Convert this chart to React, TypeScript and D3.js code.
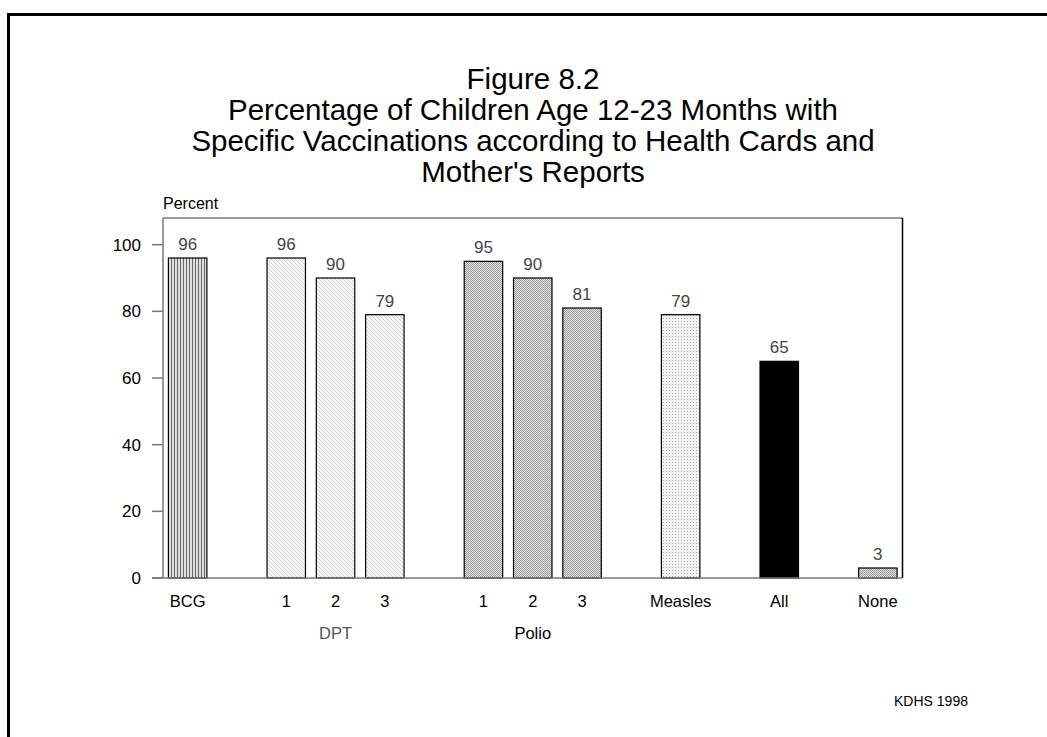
import React from "react";
import * as d3 from "d3";

const titleLines = [
  "Figure 8.2",
  "Percentage of Children Age 12-23 Months with",
  "Specific Vaccinations according to Health Cards and",
  "Mother's Reports",
];
const barLabels = ["BCG", "1", "2", "3", "1", "2", "3", "Measles", "All", "None"];
const barSlots = [0, 2, 3, 4, 6, 7, 8, 10, 12, 14];
const barValues = [96, 96, 90, 79, 95, 90, 81, 79, 65, 3];
const barFills = ["url(#pBCG)", "url(#pDPT)", "url(#pDPT)", "url(#pDPT)", "url(#pPolio)", "url(#pPolio)", "url(#pPolio)", "url(#pMeasles)", "#000", "url(#pPolio)"];
const groupLabels = [
  { text: "DPT", slot: 3, color: "#555" },
  { text: "Polio", slot: 7, color: "#000" },
];
const yTicks = [0, 20, 40, 60, 80, 100];
const slotCount = 15;

export default function App() {
  const W = 1047, H = 737;
  const left = 163, right = 902.5, top = 218, bottom = 578;
  const x = d3.scaleBand<number>().domain(d3.range(slotCount)).range([left, right]).paddingInner(0.22).paddingOuter(0.11);
  const y = d3.scaleLinear().domain([0, 108]).range([bottom, top]);
  const font = "'Liberation Sans', Arial, sans-serif";
  return (
    <svg width={W} height={H} style={{ position: "absolute", left: 0, top: 0 }} fontFamily={font}>
      <defs>
        <pattern id="pBCG" width="3" height="3" patternUnits="userSpaceOnUse">
          <rect width="3" height="3" fill="#e0e0e0" />
          <rect x="0" width="1" height="3" fill="#666" />
        </pattern>
        <pattern id="pDPT" width="4" height="4" patternUnits="userSpaceOnUse">
          <rect width="4" height="4" fill="#f5f5f5" />
          <path d="M0,0 L4,4 M-1,3 L1,5 M3,-1 L5,1" stroke="#c4c4c4" strokeWidth="0.7" />
        </pattern>
        <pattern id="pPolio" width="2" height="2" patternUnits="userSpaceOnUse">
          <rect width="2" height="2" fill="#e4e4e4" />
          <rect width="1" height="1" fill="#9a9a9a" />
          <rect x="1" y="1" width="1" height="1" fill="#9a9a9a" />
        </pattern>
        <pattern id="pMeasles" width="3" height="3" patternUnits="userSpaceOnUse">
          <rect width="3" height="3" fill="#f2f2f2" />
          <rect width="1" height="1" fill="#aaa" />
        </pattern>
      </defs>
      <rect x={8.5} y={14.5} width={W + 10} height={H + 10} fill="none" stroke="#000" strokeWidth={3} />
      {titleLines.map((t, i) => (
        <text key={i} x={533} y={88.5 + i * 31} textAnchor="middle" fontSize={29.5} fill="#000">{t}</text>
      ))}
      <text x={163} y={209} fontSize={16} fill="#000">Percent</text>
      <line x1={left} x2={right} y1={top} y2={top} stroke="#777" strokeWidth={1.5} />
      <line x1={right} x2={right} y1={top} y2={bottom} stroke="#000" strokeWidth={1.5} />
      <line x1={left} x2={left} y1={top} y2={bottom} stroke="#777" strokeWidth={1.5} />
      {yTicks.map((t) => (
        <g key={t}>
          <line x1={152} x2={left} y1={y(t)} y2={y(t)} stroke="#777" strokeWidth={1.5} />
          <text x={141} y={y(t) + 6} textAnchor="end" fontSize={17} fill="#000">{t}</text>
        </g>
      ))}
      {barValues.map((v, i) => {
        const bx = x(barSlots[i])!;
        const bw = x.bandwidth();
        return (
          <g key={i}>
            <rect x={bx} y={y(v)} width={bw} height={y(0) - y(v)} fill={barFills[i]} stroke="#000" strokeWidth={1.2} />
            <text x={bx + bw / 2} y={y(v) - 8} textAnchor="middle" fontSize={17} fill="#444">{v}</text>
            <text x={bx + bw / 2} y={607} textAnchor="middle" fontSize={16.5} fill="#000">{barLabels[i]}</text>
          </g>
        );
      })}
      <line x1={152} x2={right} y1={bottom} y2={bottom} stroke="#777" strokeWidth={1.5} />
      {groupLabels.map((g) => (
        <text key={g.text} x={x(g.slot)! + x.bandwidth() / 2} y={639} textAnchor="middle" fontSize={16.5} fill={g.color}>{g.text}</text>
      ))}
      <text x={931} y={706} textAnchor="middle" fontSize={14} fill="#000">KDHS 1998</text>
    </svg>
  );
}
